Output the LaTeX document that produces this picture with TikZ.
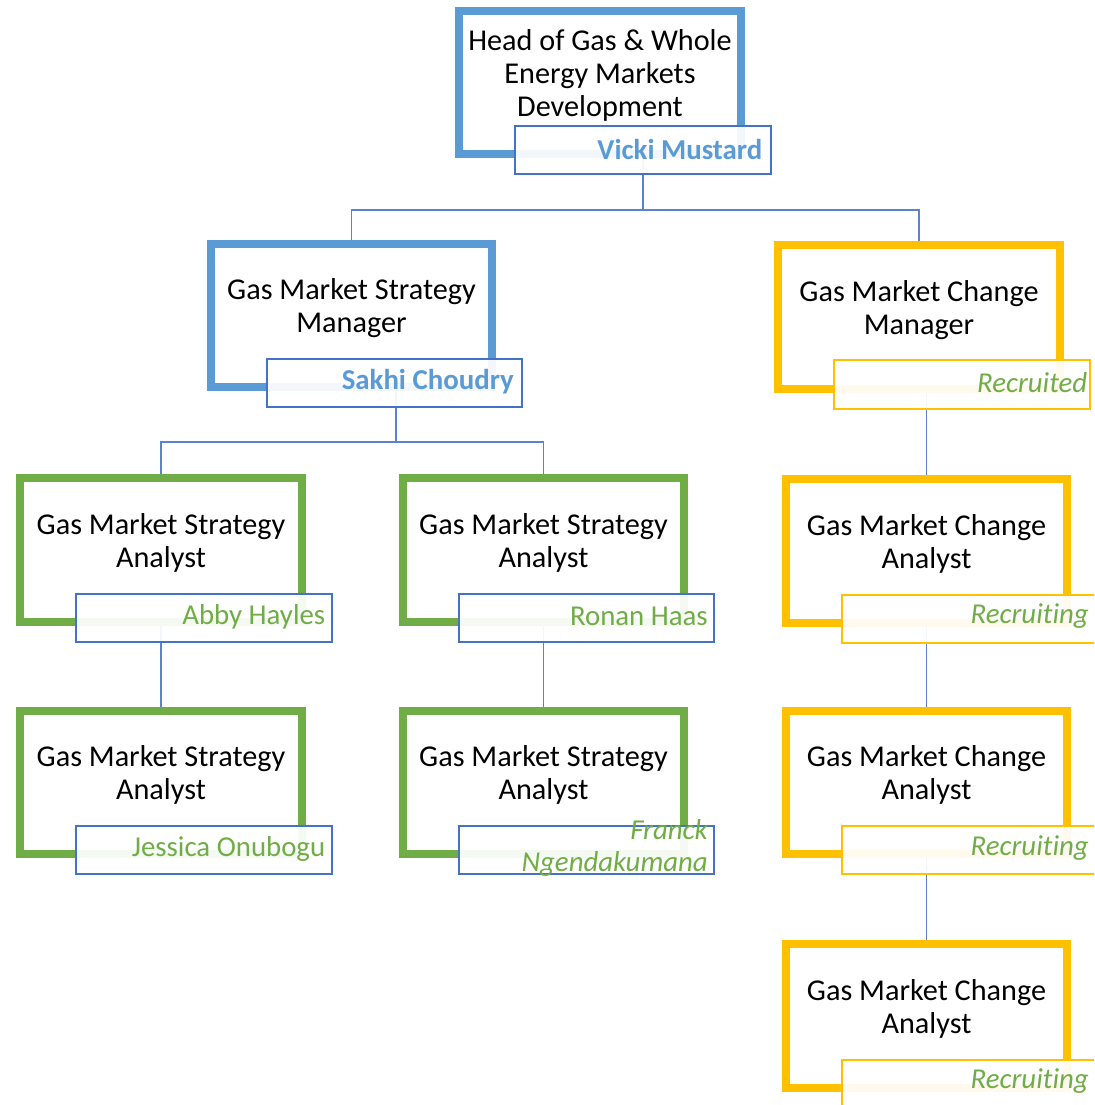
\documentclass[tikz,border=0pt]{standalone}
\usepackage{fontspec}
\setmainfont[Ligatures=NoCommon]{Carlito}
\usetikzlibrary{calc}
\definecolor{roleblue}{HTML}{5B9BD5}
\definecolor{rolegreen}{HTML}{70AD47}
\definecolor{roleyellow}{HTML}{FFC000}
\definecolor{nameblue}{HTML}{4472C4}
\definecolor{linkblue}{HTML}{5A82CF}
\tikzset{
  role/.style={draw=#1, line width=0.2cm, fill=white, minimum width=7.025cm, minimum height=3.575cm, inner sep=0pt},
  namebox/.style={draw=#1, line width=0.05cm, fill=white, fill opacity=0.93, minimum width=6.375cm, minimum height=1.2cm, inner sep=0pt},
  title/.style={font=\fontsize{21.5}{23.5}\selectfont, align=center, inner sep=0pt},
  person/.style={font=\fontsize{20.5}{22.5}\selectfont, text=#1, anchor=east, align=right, inner sep=0pt},
  link/.style={draw=linkblue, line width=0.035cm}
}

\begin{document}
\begin{tikzpicture}[x=0.025cm, y=-0.025cm]
\useasboundingbox (0,0) rectangle (1094,1105);
\clip (0,0) rectangle (1094,1105);
% role boxes
\node [role=roleblue] (head) at (600,82.5) {};
\node [role=roleblue] (stratmgr) at (351.5,315.5) {};
\node [role=roleyellow] (changemgr) at (919,317) {};
\node [role=rolegreen] (strat1) at (161,550) {};
\node [role=rolegreen] (strat2) at (543.5,550) {};
\node [role=roleyellow] (change1) at (926.5,551) {};
\node [role=rolegreen] (strat3) at (161,782.5) {};
\node [role=rolegreen] (strat4) at (543.5,782.5) {};
\node [role=roleyellow] (change2) at (926.5,782.5) {};
\node [role=roleyellow] (change3) at (926.5,1016) {};
% titles
\node [title] (head-t) at ($(head)+(0,-7)$) {Head of Gas \& Whole\\Energy Markets\\Development};
\node [title] (stratmgr-t) at ($(stratmgr)+(0,-7)$) {Gas Market Strategy\\Manager};
\node [title] (changemgr-t) at ($(changemgr)+(0,-7)$) {Gas Market Change\\Manager};
\node [title] (strat1-t) at ($(strat1)+(0,-7.5)$) {Gas Market Strategy\\Analyst};
\node [title] (strat2-t) at ($(strat2)+(0,-7.5)$) {Gas Market Strategy\\Analyst};
\node [title] (change1-t) at ($(change1)+(0,-7.5)$) {Gas Market Change\\Analyst};
\node [title] (strat3-t) at ($(strat3)+(0,-7.5)$) {Gas Market Strategy\\Analyst};
\node [title] (strat4-t) at ($(strat4)+(0,-7.5)$) {Gas Market Strategy\\Analyst};
\node [title] (change2-t) at ($(change2)+(0,-7.5)$) {Gas Market Change\\Analyst};
\node [title] (change3-t) at ($(change3)+(0,-7.5)$) {Gas Market Change\\Analyst};
% connectors
\draw [link] (head.south -| 643,0) -- ++(0,52) -| (stratmgr.north);
\draw [link] (head.south -| 643,0) -- ++(0,52) -| (changemgr.north);
\draw [link] (stratmgr.south -| 396,0) -- ++(0,51) -| (strat1.north);
\draw [link] (stratmgr.south -| 396,0) -- ++(0,51) -| (strat2.north);
\draw [link] (strat1) -- (strat3.north);
\draw [link] (strat2) -- (strat4.north);
\draw [link] (change1.north |- changemgr.south) -- (change1.north);
\draw [link] (change1) -- (change2.north);
\draw [link] (change2) -- (change3.north);
% name boxes
\node [namebox=nameblue] (head-n) at ($(head)+(43,67.5)$) {};
\node [namebox=nameblue] (stratmgr-n) at ($(stratmgr)+(43,67.5)$) {};
\node [namebox=roleyellow] (changemgr-n) at ($(changemgr)+(43,67.5)$) {};
\node [namebox=nameblue] (strat1-n) at ($(strat1)+(43,67.5)$) {};
\node [namebox=nameblue] (strat2-n) at ($(strat2)+(43,67.5)$) {};
\node [namebox=roleyellow] (change1-n) at ($(change1)+(43,67.5)$) {};
\node [namebox=nameblue] (strat3-n) at ($(strat3)+(43,67.5)$) {};
\node [namebox=nameblue] (strat4-n) at ($(strat4)+(43,67.5)$) {};
\node [namebox=roleyellow] (change2-n) at ($(change2)+(43,67.5)$) {};
\node [namebox=roleyellow] (change3-n) at ($(change3)+(43,67.5)$) {};
% people
\node [person=roleblue] (head-p) at ($(head-n.east)+(-9,-1)$) {\bfseries Vicki Mustard};
\node [person=roleblue] (stratmgr-p) at ($(stratmgr-n.east)+(-9,-1)$) {\bfseries Sakhi Choudry};
\node [person=rolegreen] (changemgr-p) at ($(changemgr-n.east)+(-3,-2)$) {\itshape Recruited};
\node [person=rolegreen] (strat1-p) at ($(strat1-n.east)+(-7,-1)$) {Abby Hayles};
\node [person=rolegreen] (strat2-p) at ($(strat2-n.east)+(-7,-1)$) {Ronan Haas};
\node [person=rolegreen] (change1-p) at ($(change1-n.east)+(-9,-2)$) {\itshape Recruiting};
\node [person=rolegreen] (strat3-p) at ($(strat3-n.east)+(-7,-1)$) {Jessica Onubogu};
\node [person=rolegreen] (strat4-p) at ($(strat4-n.east)+(-7,-2)$) {\itshape Franck\\\itshape Ngendakumana};
\node [person=rolegreen] (change2-p) at ($(change2-n.east)+(-9,-2)$) {\itshape Recruiting};
\node [person=rolegreen] (change3-p) at ($(change3-n.east)+(-9,-2)$) {\itshape Recruiting};
\end{tikzpicture}
\end{document}
